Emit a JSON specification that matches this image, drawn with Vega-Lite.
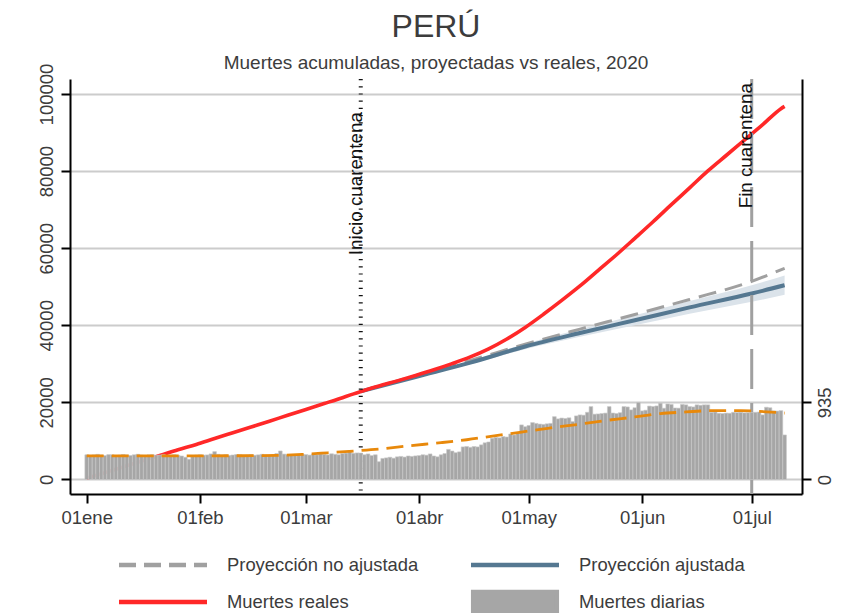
{
  "$schema": "https://vega.github.io/schema/vega-lite/v6.json",
  "width": 732,
  "height": 415,
  "autosize": {"type": "none"},
  "padding": {"left": 70, "top": 79, "right": 52, "bottom": 119},
  "background": "#ffffff",
  "config": {
    "font": "Liberation Sans",
    "view": {"stroke": null},
    "axis": {"domainColor": "#000000", "domainWidth": 2, "tickColor": "#000000", "tickWidth": 2, "tickSize": 9, "labelColor": "#3c3c3c", "labelFontSize": 18.5, "labelFont": "Liberation Sans"}
  },
  "title": {"text": "PERÚ", "subtitle": "Muertes acumuladas, proyectadas vs reales, 2020", "fontSize": 32, "fontWeight": "normal", "color": "#3c3c3c", "font": "Liberation Sans", "subtitleFont": "Liberation Sans", "subtitleFontSize": 19, "subtitleColor": "#3c3c3c", "anchor": "middle", "frame": "group", "offset": -11, "subtitlePadding": 10},
  "datasets": {
    "diarias": [
      {"fecha":"2020-01-01","muertes":300},{"fecha":"2020-01-02","muertes":292},{"fecha":"2020-01-03","muertes":298},{"fecha":"2020-01-04","muertes":305},{"fecha":"2020-01-05","muertes":296},{"fecha":"2020-01-06","muertes":290},{"fecha":"2020-01-07","muertes":302},{"fecha":"2020-01-08","muertes":299},{"fecha":"2020-01-09","muertes":288},{"fecha":"2020-01-10","muertes":295},
      {"fecha":"2020-01-11","muertes":303},{"fecha":"2020-01-12","muertes":297},{"fecha":"2020-01-13","muertes":291},{"fecha":"2020-01-14","muertes":300},{"fecha":"2020-01-15","muertes":306},{"fecha":"2020-01-16","muertes":294},{"fecha":"2020-01-17","muertes":289},{"fecha":"2020-01-18","muertes":298},{"fecha":"2020-01-19","muertes":301},{"fecha":"2020-01-20","muertes":293},
      {"fecha":"2020-01-21","muertes":297},{"fecha":"2020-01-22","muertes":304},{"fecha":"2020-01-23","muertes":290},{"fecha":"2020-01-24","muertes":296},{"fecha":"2020-01-25","muertes":300},{"fecha":"2020-01-26","muertes":292},{"fecha":"2020-01-27","muertes":285},{"fecha":"2020-01-28","muertes":270},{"fecha":"2020-01-29","muertes":245},{"fecha":"2020-01-30","muertes":282},{"fecha":"2020-01-31","muertes":296},
      {"fecha":"2020-02-01","muertes":300},{"fecha":"2020-02-02","muertes":295},{"fecha":"2020-02-03","muertes":298},{"fecha":"2020-02-04","muertes":310},{"fecha":"2020-02-05","muertes":338},{"fecha":"2020-02-06","muertes":305},{"fecha":"2020-02-07","muertes":296},{"fecha":"2020-02-08","muertes":300},{"fecha":"2020-02-09","muertes":292},{"fecha":"2020-02-10","muertes":297},
      {"fecha":"2020-02-11","muertes":303},{"fecha":"2020-02-12","muertes":298},{"fecha":"2020-02-13","muertes":290},{"fecha":"2020-02-14","muertes":296},{"fecha":"2020-02-15","muertes":301},{"fecha":"2020-02-16","muertes":294},{"fecha":"2020-02-17","muertes":299},{"fecha":"2020-02-18","muertes":305},{"fecha":"2020-02-19","muertes":297},{"fecha":"2020-02-20","muertes":291},
      {"fecha":"2020-02-21","muertes":300},{"fecha":"2020-02-22","muertes":315},{"fecha":"2020-02-23","muertes":346},{"fecha":"2020-02-24","muertes":308},{"fecha":"2020-02-25","muertes":300},{"fecha":"2020-02-26","muertes":296},{"fecha":"2020-02-27","muertes":303},{"fecha":"2020-02-28","muertes":299},{"fecha":"2020-02-29","muertes":305},
      {"fecha":"2020-03-01","muertes":302},{"fecha":"2020-03-02","muertes":296},{"fecha":"2020-03-03","muertes":308},{"fecha":"2020-03-04","muertes":300},{"fecha":"2020-03-05","muertes":310},{"fecha":"2020-03-06","muertes":304},{"fecha":"2020-03-07","muertes":298},{"fecha":"2020-03-08","muertes":312},{"fecha":"2020-03-09","muertes":305},{"fecha":"2020-03-10","muertes":300},
      {"fecha":"2020-03-11","muertes":315},{"fecha":"2020-03-12","muertes":320},{"fecha":"2020-03-13","muertes":346},{"fecha":"2020-03-14","muertes":318},{"fecha":"2020-03-15","muertes":322},{"fecha":"2020-03-16","muertes":320},{"fecha":"2020-03-17","muertes":300},{"fecha":"2020-03-18","muertes":310},{"fecha":"2020-03-19","muertes":290},{"fecha":"2020-03-20","muertes":300},
      {"fecha":"2020-03-21","muertes":216},{"fecha":"2020-03-22","muertes":255},{"fecha":"2020-03-23","muertes":262},{"fecha":"2020-03-24","muertes":270},{"fecha":"2020-03-25","muertes":258},{"fecha":"2020-03-26","muertes":275},{"fecha":"2020-03-27","muertes":280},{"fecha":"2020-03-28","muertes":272},{"fecha":"2020-03-29","muertes":285},{"fecha":"2020-03-30","muertes":280},{"fecha":"2020-03-31","muertes":286},
      {"fecha":"2020-04-01","muertes":290},{"fecha":"2020-04-02","muertes":300},{"fecha":"2020-04-03","muertes":295},{"fecha":"2020-04-04","muertes":310},{"fecha":"2020-04-05","muertes":285},{"fecha":"2020-04-06","muertes":275},{"fecha":"2020-04-07","muertes":300},{"fecha":"2020-04-08","muertes":315},{"fecha":"2020-04-09","muertes":365},{"fecha":"2020-04-10","muertes":345},
      {"fecha":"2020-04-11","muertes":325},{"fecha":"2020-04-12","muertes":335},{"fecha":"2020-04-13","muertes":395},{"fecha":"2020-04-14","muertes":400},{"fecha":"2020-04-15","muertes":390},{"fecha":"2020-04-16","muertes":400},{"fecha":"2020-04-17","muertes":395},{"fecha":"2020-04-18","muertes":420},{"fecha":"2020-04-19","muertes":445},{"fecha":"2020-04-20","muertes":455},
      {"fecha":"2020-04-21","muertes":500},{"fecha":"2020-04-22","muertes":510},{"fecha":"2020-04-23","muertes":505},{"fecha":"2020-04-24","muertes":520},{"fecha":"2020-04-25","muertes":515},{"fecha":"2020-04-26","muertes":552},{"fecha":"2020-04-27","muertes":540},{"fecha":"2020-04-28","muertes":560},{"fecha":"2020-04-29","muertes":662},{"fecha":"2020-04-30","muertes":640},
      {"fecha":"2020-05-01","muertes":655},{"fecha":"2020-05-02","muertes":690},{"fecha":"2020-05-03","muertes":680},{"fecha":"2020-05-04","muertes":672},{"fecha":"2020-05-05","muertes":668},{"fecha":"2020-05-06","muertes":675},{"fecha":"2020-05-07","muertes":680},{"fecha":"2020-05-08","muertes":762},{"fecha":"2020-05-09","muertes":735},{"fecha":"2020-05-10","muertes":745},
      {"fecha":"2020-05-11","muertes":740},{"fecha":"2020-05-12","muertes":748},{"fecha":"2020-05-13","muertes":702},{"fecha":"2020-05-14","muertes":771},{"fecha":"2020-05-15","muertes":783},{"fecha":"2020-05-16","muertes":780},{"fecha":"2020-05-17","muertes":815},{"fecha":"2020-05-18","muertes":884},{"fecha":"2020-05-19","muertes":792},{"fecha":"2020-05-20","muertes":795},
      {"fecha":"2020-05-21","muertes":800},{"fecha":"2020-05-22","muertes":805},{"fecha":"2020-05-23","muertes":884},{"fecha":"2020-05-24","muertes":806},{"fecha":"2020-05-25","muertes":800},{"fecha":"2020-05-26","muertes":810},{"fecha":"2020-05-27","muertes":884},{"fecha":"2020-05-28","muertes":880},{"fecha":"2020-05-29","muertes":844},{"fecha":"2020-05-30","muertes":870},{"fecha":"2020-05-31","muertes":935},
      {"fecha":"2020-06-01","muertes":832},{"fecha":"2020-06-02","muertes":840},{"fecha":"2020-06-03","muertes":890},{"fecha":"2020-06-04","muertes":885},{"fecha":"2020-06-05","muertes":892},{"fecha":"2020-06-06","muertes":925},{"fecha":"2020-06-07","muertes":864},{"fecha":"2020-06-08","muertes":916},{"fecha":"2020-06-09","muertes":910},{"fecha":"2020-06-10","muertes":867},
      {"fecha":"2020-06-11","muertes":865},{"fecha":"2020-06-12","muertes":910},{"fecha":"2020-06-13","muertes":905},{"fecha":"2020-06-14","muertes":884},{"fecha":"2020-06-15","muertes":880},{"fecha":"2020-06-16","muertes":905},{"fecha":"2020-06-17","muertes":900},{"fecha":"2020-06-18","muertes":905},{"fecha":"2020-06-19","muertes":905},{"fecha":"2020-06-20","muertes":815},
      {"fecha":"2020-06-21","muertes":818},{"fecha":"2020-06-22","muertes":803},{"fecha":"2020-06-23","muertes":800},{"fecha":"2020-06-24","muertes":805},{"fecha":"2020-06-25","muertes":803},{"fecha":"2020-06-26","muertes":815},{"fecha":"2020-06-27","muertes":812},{"fecha":"2020-06-28","muertes":815},{"fecha":"2020-06-29","muertes":808},{"fecha":"2020-06-30","muertes":810},
      {"fecha":"2020-07-01","muertes":812},{"fecha":"2020-07-02","muertes":815},{"fecha":"2020-07-03","muertes":818},{"fecha":"2020-07-04","muertes":783},{"fecha":"2020-07-05","muertes":876},{"fecha":"2020-07-06","muertes":870},{"fecha":"2020-07-07","muertes":832},{"fecha":"2020-07-08","muertes":830},{"fecha":"2020-07-09","muertes":835},{"fecha":"2020-07-10","muertes":540}
    ],
    "acumuladas": [
      {"fecha":"2020-01-01","valor":300},{"fecha":"2020-01-06","valor":1781},{"fecha":"2020-01-11","valor":3268},{"fecha":"2020-01-16","valor":4756},{"fecha":"2020-01-21","valor":6234},{"fecha":"2020-01-26","valor":7716},{"fecha":"2020-01-31","valor":9094},
      {"fecha":"2020-02-05","valor":10635},{"fecha":"2020-02-10","valor":12125},{"fecha":"2020-02-15","valor":13613},{"fecha":"2020-02-20","valor":15099},{"fecha":"2020-02-25","valor":16668},
      {"fecha":"2020-03-01","valor":18173},{"fecha":"2020-03-06","valor":19691},{"fecha":"2020-03-11","valor":21221},{"fecha":"2020-03-16","valor":22847},{"fecha":"2020-03-21","valor":24263},{"fecha":"2020-03-26","valor":25583},{"fecha":"2020-03-31","valor":26986},
      {"fecha":"2020-04-05","valor":28466},{"fecha":"2020-04-10","valor":30066},{"fecha":"2020-04-15","valor":31800},{"fecha":"2020-04-20","valor":33900},{"fecha":"2020-04-25","valor":36450},{"fecha":"2020-04-30","valor":39450},
      {"fecha":"2020-05-05","valor":42850},{"fecha":"2020-05-10","valor":46450},{"fecha":"2020-05-15","valor":50200},{"fecha":"2020-05-20","valor":54250},{"fecha":"2020-05-25","valor":58300},{"fecha":"2020-05-30","valor":62550},
      {"fecha":"2020-06-04","valor":66850},{"fecha":"2020-06-09","valor":71300},{"fecha":"2020-06-14","valor":75650},{"fecha":"2020-06-19","valor":80050},{"fecha":"2020-06-24","valor":84050},{"fecha":"2020-06-29","valor":88050},
      {"fecha":"2020-07-04","valor":92050},{"fecha":"2020-07-09","valor":96200},{"fecha":"2020-07-10","valor":96800}
    ],
    "proy_no_aj": [
      {"fecha":"2020-03-16","valor":22847},{"fecha":"2020-03-31","valor":26900},{"fecha":"2020-04-15","valor":30900},{"fecha":"2020-04-30","valor":35100},{"fecha":"2020-05-15","valor":39000},{"fecha":"2020-05-30","valor":42800},{"fecha":"2020-06-14","valor":46700},{"fecha":"2020-07-01","valor":51400},{"fecha":"2020-07-10","valor":54800}
    ],
    "proy_aj": [
      {"fecha":"2020-03-16","valor":22847,"inf":22847,"sup":22847},{"fecha":"2020-03-31","valor":26600,"inf":26450,"sup":26750},{"fecha":"2020-04-15","valor":30300,"inf":29900,"sup":30700},{"fecha":"2020-04-30","valor":34500,"inf":33800,"sup":35200},{"fecha":"2020-05-15","valor":38000,"inf":37000,"sup":39000},{"fecha":"2020-05-30","valor":41300,"inf":40000,"sup":42600},{"fecha":"2020-06-14","valor":44650,"inf":43000,"sup":46300},{"fecha":"2020-07-01","valor":48250,"inf":46100,"sup":50400},{"fecha":"2020-07-10","valor":50400,"inf":47900,"sup":52900}
    ],
    "proy_diarias": [
      {"fecha":"2020-01-01","muertes":287},{"fecha":"2020-01-15","muertes":287},{"fecha":"2020-01-29","muertes":287},{"fecha":"2020-02-12","muertes":288},{"fecha":"2020-02-22","muertes":292},{"fecha":"2020-02-29","muertes":304},{"fecha":"2020-03-07","muertes":324},{"fecha":"2020-03-14","muertes":345},{"fecha":"2020-03-22","muertes":373},{"fecha":"2020-03-29","muertes":408},{"fecha":"2020-04-07","muertes":447},{"fecha":"2020-04-14","muertes":482},{"fecha":"2020-04-22","muertes":532},{"fecha":"2020-04-29","muertes":575},{"fecha":"2020-05-07","muertes":627},{"fecha":"2020-05-15","muertes":671},{"fecha":"2020-05-22","muertes":715},{"fecha":"2020-05-30","muertes":758},{"fecha":"2020-06-06","muertes":799},{"fecha":"2020-06-13","muertes":819},{"fecha":"2020-06-20","muertes":835},{"fecha":"2020-06-28","muertes":836},{"fecha":"2020-07-05","muertes":820},{"fecha":"2020-07-10","muertes":806}
    ]
  },
  "encoding": {
    "x": {
      "field": "fecha", "type": "temporal",
      "scale": {"type": "utc", "padding": 0, "domain": [{"year": 2019, "month": 12, "date": 27, "hours": 10, "minutes": 19, "utc": true}, {"year": 2020, "month": 7, "date": 14, "hours": 18, "minutes": 14, "utc": true}]},
      "axis": {
        "title": null, "grid": false,
        "values": [{"year":2020,"month":1,"date":1,"utc":true},{"year":2020,"month":2,"date":1,"utc":true},{"year":2020,"month":3,"date":1,"utc":true},{"year":2020,"month":4,"date":1,"utc":true},{"year":2020,"month":5,"date":1,"utc":true},{"year":2020,"month":6,"date":1,"utc":true},{"year":2020,"month":7,"date":1,"utc":true}],
        "labelExpr": "utcFormat(datum.value, '%d') + ['ene','feb','mar','abr','may','jun','jul','ago','sep','oct','nov','dic'][utcmonth(datum.value)]",
        "labelPadding": 5, "labelFlush": false, "labelOverlap": false
      }
    }
  },
  "layer": [
    {
      "layer": [
        {
          "data": {"name": "proy_aj"},
          "mark": {"type": "area", "color": "#dbe3ea", "interpolate": "monotone"},
          "encoding": {
            "y": {"field": "inf", "type": "quantitative", "scale": {"domain": [-3766, 103896], "nice": false, "zero": false},
              "axis": {"orient": "left", "title": null, "values": [0, 20000, 40000, 60000, 80000, 100000], "format": "d", "grid": true, "gridColor": "#cccccc", "gridWidth": 2, "labelAngle": 270, "labelAlign": "center", "labelBaseline": "alphabetic", "labelPadding": 9}},
            "y2": {"field": "sup"}
          }
        },
        {
          "data": {"name": "proy_no_aj"},
          "mark": {"type": "line", "strokeWidth": 3, "strokeDash": [18, 9], "interpolate": "monotone"},
          "encoding": {
            "y": {"field": "valor", "type": "quantitative", "scale": {"domain": [-3766, 103896], "nice": false, "zero": false}},
            "color": {"datum": "Proyección no ajustada", "type": "nominal",
              "scale": {"domain": ["Proyección no ajustada", "Proyección ajustada", "Muertes reales", "Muertes diarias"], "range": ["#a0a0a0", "#557891", "#ff2828", "#a6a6a6"]},
              "legend": {
                "title": null, "orient": "none", "legendX": 79.5, "legendY": 472.5, "direction": "horizontal", "columns": 2,
                "symbolType": "M-4,0H4", "symbolSize": 484, "symbolStrokeWidth": 4.5,
                "labelFontSize": 18.4, "labelColor": "#3c3c3c", "labelFont": "Liberation Sans", "labelOffset": 50.5, "labelLimit": 400,
                "columnPadding": 43, "rowPadding": 8, "padding": 0,
                "encode": {"symbols": {"update": {
                  "shape": {"signal": "datum.label === 'Muertes diarias' ? 'M-3.8,-0.9H3.8V0.9H-3.8Z' : 'M-4,0H4'"},
                  "fill": {"signal": "datum.label === 'Muertes diarias' ? '#b5b5b5' : 'transparent'"},
                  "stroke": {"signal": "datum.label === 'Muertes diarias' ? '#b0b0b0' : datum.label === 'Muertes reales' ? '#ff3535' : datum.label === 'Proyección ajustada' ? '#5a7b92' : '#a6a6a6'"},
                  "strokeDash": {"signal": "datum.label === 'Proyección no ajustada' ? [17, 8] : []"},
                  "strokeWidth": {"value": 4.5},
                  "opacity": {"value": 1}
                }}}
              }
            }
          }
        },
        {
          "data": {"name": "proy_aj"},
          "mark": {"type": "line", "strokeWidth": 4, "interpolate": "monotone"},
          "encoding": {
            "y": {"field": "valor", "type": "quantitative", "scale": {"domain": [-3766, 103896], "nice": false, "zero": false}},
            "color": {"datum": "Proyección ajustada", "type": "nominal"}
          }
        },
        {
          "data": {"name": "acumuladas"},
          "mark": {"type": "line", "strokeWidth": 3.6, "interpolate": "monotone"},
          "encoding": {
            "y": {"field": "valor", "type": "quantitative", "scale": {"domain": [-3766, 103896], "nice": false, "zero": false}},
            "color": {"datum": "Muertes reales", "type": "nominal"}
          }
        },
        {
          "data": {"values": [{"fecha": "2020-03-16", "texto": "Inicio cuarentena"}]},
          "mark": {"type": "rule", "color": "#111111", "strokeWidth": 4, "strokeDash": [1.2, 6]},
          "encoding": {}
        },
        {
          "data": {"values": [{"fecha": "2020-07-01", "texto": "Fin cuarentena"}]},
          "mark": {"type": "rule", "color": "#a0a0a0", "strokeWidth": 3, "strokeDash": [40, 14]},
          "encoding": {}
        },
        {
          "data": {"values": [{"fecha": "2020-03-16", "texto": "Inicio cuarentena"}]},
          "mark": {"type": "text", "angle": 270, "align": "right", "baseline": "alphabetic", "fontSize": 18.8, "color": "#111111", "dy": 1},
          "encoding": {"y": {"datum": 95300, "type": "quantitative"}, "text": {"field": "texto"}}
        },
        {
          "data": {"values": [{"fecha": "2020-07-01", "texto": "Fin cuarentena"}]},
          "mark": {"type": "text", "angle": 270, "align": "right", "baseline": "alphabetic", "fontSize": 18.8, "color": "#111111", "dy": 0.5},
          "encoding": {"y": {"datum": 102850, "type": "quantitative"}, "text": {"field": "texto"}}
        }
      ]
    },
    {
      "layer": [
        {
          "data": {"name": "diarias"},
          "mark": {"type": "bar", "width": 3.65, "stroke": "#c9c9c9", "strokeWidth": 0.6},
          "encoding": {
            "y": {"field": "muertes", "type": "quantitative", "scale": {"domain": [-176, 4857], "nice": false, "zero": false},
              "axis": {"orient": "right", "title": null, "values": [0, 935], "grid": false, "labelAngle": 270, "labelAlign": "center", "labelBaseline": "top", "labelPadding": 4}},
            "y2": {"datum": 0},
            "color": {"datum": "Muertes diarias", "type": "nominal"}
          }
        },
        {
          "data": {"name": "proy_diarias"},
          "mark": {"type": "line", "color": "#e8890c", "strokeWidth": 2.8, "strokeDash": [17, 8], "interpolate": "monotone"},
          "encoding": {
            "y": {"field": "muertes", "type": "quantitative", "scale": {"domain": [-176, 4857], "nice": false, "zero": false}}
          }
        }
      ]
    }
  ],
  "resolve": {"scale": {"y": "independent"}}
}
